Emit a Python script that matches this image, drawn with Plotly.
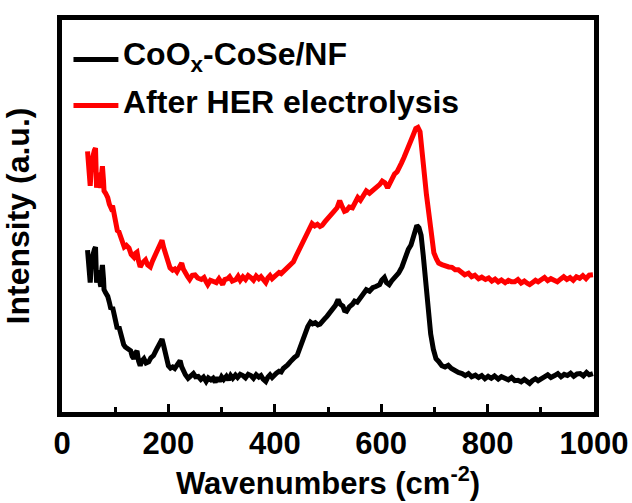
import plotly.graph_objects as go

# Raman spectra: wavenumber (cm^-1) and intensity (a.u.)
black_wn = [48, 51, 53, 56, 58, 61, 63, 65, 68, 70, 72, 73, 75, 76, 78, 79, 82, 86, 89, 92,
            95, 98, 101, 104, 107, 110, 113, 116, 119, 124, 129, 132, 135, 138, 141, 144, 147, 150, 154, 158,
            163, 167, 172, 177, 182, 185, 188, 191, 194, 197, 200, 204, 208, 212, 216, 219, 222, 225, 228, 232,
            237, 242, 247, 251, 256, 261, 266, 271, 275, 280, 284, 288, 292, 296, 300, 304, 309, 313, 317, 321,
            326, 330, 335, 340, 345, 350, 355, 360, 365, 370, 374, 378, 383, 387, 391, 395, 398, 403, 408, 412,
            416, 420, 424, 429, 433, 437, 442, 446, 450, 454, 458, 462, 467, 471, 476, 481, 485, 490, 494, 498,
            503, 509, 514, 519, 523, 528, 531, 535, 540, 546, 550, 555, 559, 564, 568, 572, 578, 584, 590, 597,
            601, 606, 610, 615, 620, 624, 628, 633, 639, 643, 647, 651, 656, 660, 664, 667, 671, 675, 679, 684,
            688, 693, 698, 703, 708, 714, 720, 726, 732, 738, 745, 752, 758, 764, 770, 777, 783, 789, 795, 801,
            807, 813, 820, 826, 833, 839, 845, 851, 857, 863, 869, 875, 879, 884, 890, 895, 900, 906, 913, 919,
            926, 932, 938, 944, 950, 956, 962, 968, 974, 980, 986, 991, 998]
black_int = [41.3, 36.0, 33.0, 39.0, 40.6, 41.5, 42.1, 33.0, 36.0, 35.5, 32.5, 32.0, 36.5, 37.5, 34.0, 31.2, 30.4, 29.5, 28.0, 26.2,
             26.8, 24.4, 23.0, 21.2, 21.8, 20.4, 17.9, 17.2, 16.6, 16.0, 15.6, 14.2, 13.6, 15.0, 15.6, 13.0, 11.8, 13.0, 13.6, 12.5,
             12.8, 13.8, 14.4, 15.8, 17.4, 18.2, 18.6, 17.0, 15.4, 13.5, 11.8, 11.2, 11.5, 11.1, 11.8, 12.7, 13.1, 11.5, 10.3, 9.5,
             8.6, 9.4, 9.8, 9.0, 9.1, 8.3, 8.9, 7.8, 8.7, 8.2, 8.6, 7.6, 8.8, 7.8, 9.0, 8.3, 9.1, 8.2, 9.3, 8.6,
             9.4, 8.8, 9.6, 9.3, 8.7, 9.6, 9.3, 8.6, 9.5, 8.9, 9.3, 8.4, 7.8, 8.9, 9.5, 8.8, 9.3, 9.9, 10.4, 10.2,
             11.1, 11.4, 12.0, 12.8, 13.5, 13.9, 14.4, 16.0, 17.8, 19.4, 20.8, 21.8, 22.9, 22.5, 22.8, 22.2, 22.4, 23.5, 23.8, 24.4,
             25.3, 26.2, 27.2, 28.7, 27.5, 27.0, 25.9, 25.7, 26.8, 27.5, 28.3, 28.0, 28.7, 29.8, 30.5, 31.2, 30.8, 31.7, 32.0, 32.5,
             33.6, 34.3, 33.0, 32.5, 33.5, 34.2, 34.5, 35.5, 37.0, 38.8, 40.6, 41.5, 42.6, 44.5, 46.5, 47.6, 47.0, 45.1, 40.0, 32.5,
             26.0, 19.9, 16.0, 13.6, 12.9, 11.8, 11.5, 11.9, 11.1, 10.5, 10.1, 9.8, 9.3, 9.8, 9.0, 9.4, 8.8, 9.3, 8.5, 9.1,
             8.6, 9.2, 8.4, 9.0, 8.6, 8.2, 8.8, 8.0, 8.1, 7.7, 8.3, 7.9, 7.3, 8.0, 8.5, 8.0, 8.6, 8.9, 9.5, 8.8,
             9.3, 9.8, 9.0, 9.6, 9.3, 9.9, 9.1, 9.7, 9.8, 9.2, 10.1, 9.5, 9.8]

red_wn = [48, 51, 53, 56, 58, 61, 63, 65, 68, 70, 72, 73, 75, 76, 78, 79, 82, 86, 89, 92,
          95, 98, 101, 104, 107, 110, 113, 117, 121, 126, 130, 135, 138, 141, 144, 147, 151, 157, 161, 166,
          170, 175, 180, 184, 188, 191, 196, 199, 203, 208, 212, 216, 220, 225, 228, 231, 236, 240, 245, 250,
          255, 262, 267, 271, 274, 279, 285, 290, 295, 302, 306, 311, 315, 320, 327, 331, 335, 340, 345, 350,
          355, 360, 365, 370, 374, 378, 383, 387, 391, 395, 398, 403, 408, 412, 416, 421, 426, 431, 435, 440,
          444, 448, 452, 456, 461, 465, 470, 475, 480, 485, 489, 494, 500, 505, 510, 517, 522, 526, 531, 535,
          540, 546, 551, 556, 561, 566, 572, 578, 584, 590, 597, 602, 607, 612, 617, 621, 625, 630, 634, 638,
          643, 647, 651, 656, 660, 665, 669, 673, 677, 680, 685, 690, 695, 699, 704, 708, 714, 720, 727, 733,
          739, 745, 751, 757, 764, 770, 776, 783, 789, 796, 802, 808, 814, 820, 826, 833, 839, 845, 851, 857,
          863, 869, 875, 879, 884, 890, 895, 901, 907, 913, 919, 925, 931, 937, 943, 949, 955, 961, 967, 973,
          979, 985, 991, 998]
red_int = [66.5, 61.0, 57.7, 64.0, 65.7, 66.8, 67.3, 57.2, 60.5, 60.7, 57.8, 57.2, 61.5, 62.7, 59.0, 56.4, 55.8, 54.7, 53.0, 52.1,
           52.6, 50.6, 48.5, 46.3, 46.0, 44.6, 43.0, 42.1, 42.5, 41.8, 40.2, 39.5, 40.5, 40.8, 38.5, 37.0, 38.0, 38.8, 37.5, 37.0,
           38.5, 40.0, 41.8, 43.0, 43.8, 42.0, 39.5, 38.0, 36.8, 36.2, 36.5, 35.8, 37.0, 38.0, 36.5, 35.5, 34.6, 33.8, 34.9, 35.0,
           34.2, 33.8, 34.3, 33.2, 32.5, 33.6, 33.2, 33.0, 34.0, 32.5, 33.8, 34.0, 34.5, 33.4, 33.8, 34.6, 33.6, 34.5, 33.8, 34.8,
           34.3, 33.6, 34.7, 34.0, 34.5, 33.9, 33.0, 34.2, 34.8, 34.0, 34.3, 35.0, 35.6, 35.3, 35.8, 36.5, 37.2, 37.8, 38.3, 39.8,
           41.0, 42.1, 43.4, 44.5, 45.6, 47.0, 48.1, 47.5, 47.9, 47.3, 47.6, 48.5, 49.6, 50.2, 51.0, 52.1, 53.9, 52.6, 51.2, 51.4,
           52.3, 52.1, 53.5, 54.7, 54.0, 55.2, 56.4, 55.8, 56.4, 57.3, 58.0, 58.9, 58.5, 57.2, 58.6, 59.8, 60.7, 61.3, 62.2, 63.5,
           65.0, 66.5, 67.8, 69.0, 70.6, 72.3, 72.6, 71.5, 67.5, 62.2, 55.5, 49.6, 44.5, 40.6, 39.0, 38.0, 37.6, 37.2, 37.0, 36.9,
           36.3, 36.3, 35.6, 35.0, 35.4, 34.5, 34.9, 34.0, 34.4, 33.8, 34.2, 33.4, 33.9, 33.2, 33.7, 33.0, 33.6, 33.2, 33.2, 33.8,
           32.9, 33.4, 32.8, 32.5, 33.0, 33.6, 33.2, 33.8, 34.3, 33.5, 34.0, 33.6, 33.2, 33.9, 34.5, 33.8, 34.3, 33.6, 34.5, 34.1,
           34.8, 34.0, 34.9, 35.0]

series_names = ["CoO<sub>x</sub>-CoSe/NF", "After HER electrolysis"]
series_colors = ["#000000", "#ff0000"]

FONT = "Liberation Sans, Arial, sans-serif"
W, H = 632, 503
M_L, M_R, M_T, M_B = 61.5, 37.5, 19.5, 91
PW, PH = W - M_L - M_R, H - M_T - M_B


def px_to_paper(xp, yp):
    return (xp - M_L) / PW, (H - M_B - yp) / PH


fig = go.Figure()
for wn, inten, name, color in zip([black_wn, red_wn], [black_int, red_int], series_names, series_colors):
    fig.add_trace(go.Scatter(x=wn, y=inten, mode="lines", name=name,
                             line=dict(color=color, width=5), showlegend=False))

# Legend drawn as line swatches plus labels, inside the upper-left corner
legend_rows_y = [59, 105]
for name, color, yrow in zip(series_names, series_colors, legend_rows_y):
    x0, y0 = px_to_paper(73, yrow)
    x1, _ = px_to_paper(118, yrow)
    fig.add_shape(type="line", xref="paper", yref="paper", x0=x0, x1=x1, y0=y0, y1=y0,
                  line=dict(color=color, width=5))
    tx, ty = px_to_paper(121, yrow - 3)
    fig.add_annotation(xref="paper", yref="paper", x=tx, y=ty, xanchor="left", yanchor="middle",
                       text=name, showarrow=False,
                       font=dict(family=FONT, size=32, color="black", weight="bold"))

fig.update_layout(
    template="none",
    width=W, height=H,
    margin=dict(l=M_L, r=M_R, t=M_T, b=M_B, pad=0),
    paper_bgcolor="white", plot_bgcolor="white",
    font=dict(family=FONT, color="black", size=31, weight="bold"),
    showlegend=False,
    xaxis=dict(range=[0, 1000], showline=True, linewidth=4.5, linecolor="black",
               mirror=True, showgrid=False, zeroline=False, automargin=False,
               ticks="inside", ticklen=8, tickwidth=3, tickcolor="black",
               tickvals=[0, 200, 400, 600, 800, 1000],
               minor=dict(ticks="inside", ticklen=5, tickwidth=3, tickcolor="black",
                          tickvals=[100, 300, 500, 700, 900], showgrid=False),
               tickfont=dict(family=FONT, size=31, weight="bold"),
               title=dict(text="Wavenumbers (cm<sup>-2</sup>)", standoff=14,
                          font=dict(family=FONT, size=31, weight="bold"))),
    yaxis=dict(range=[0, 100], showline=True, linewidth=4.5, linecolor="black",
               mirror=True, showgrid=False, zeroline=False, ticks="", automargin=False,
               showticklabels=False,
               title=dict(text="Intensity (a.u.)", standoff=24,
                          font=dict(family=FONT, size=32, weight="bold"))),
)

fig.write_html("out.html")
